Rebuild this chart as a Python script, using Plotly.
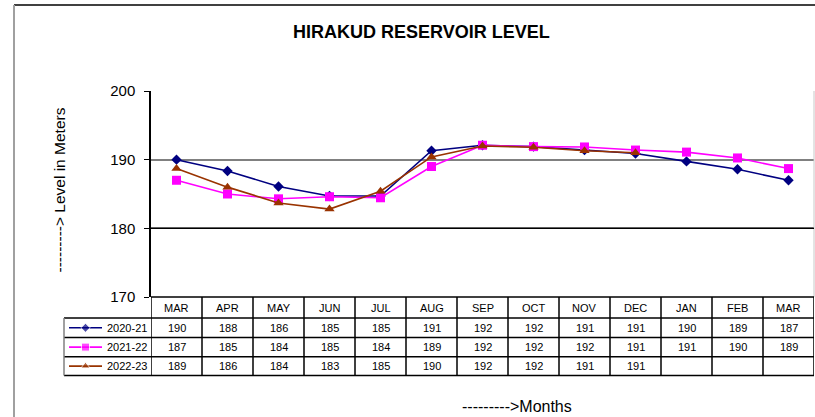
import plotly.graph_objects as go

# Data (monthly reservoir level, meters)
months = ['MAR', 'APR', 'MAY', 'JUN', 'JUL', 'AUG', 'SEP', 'OCT', 'NOV', 'DEC', 'JAN', 'FEB', 'MAR']
seasons = ['2020-21', '2021-22', '2022-23']
level_2020_21 = [190.0, 188.35, 186.1, 184.7, 184.7, 191.3, 192.1, 191.9, 191.4, 190.9, 189.75, 188.6, 187.0]
level_2021_22 = [187.0, 185.0, 184.3, 184.6, 184.45, 189.0, 192.1, 191.9, 191.85, 191.4, 191.1, 190.25, 188.7]
level_2022_23 = [188.7, 186.0, 183.7, 182.8, 185.4, 190.4, 192.0, 191.8, 191.3, 191.0, None, None, None]

series = [level_2020_21, level_2021_22, level_2022_23]
colors = ['#000080', '#FF00FF', '#993300']
symbols = ['diamond', 'square', 'triangle-up']
msizes = [8, 9, 9]

W, H = 815, 417
FONT = 'Liberation Sans, Arial, sans-serif'


def px(x):
    return x / W


def py(y):
    return 1 - y / H


x_idx = list(range(len(months)))

fig = go.Figure()
for name, vals, c, s, ms in zip(seasons, series, colors, symbols, msizes):
    fig.add_trace(go.Scatter(
        x=x_idx, y=vals, name=name, mode='lines+markers',
        line=dict(color=c, width=1.6),
        marker=dict(symbol=s, size=ms, color=c),
        showlegend=False, xaxis='x', yaxis='y',
    ))

# legend keys inside the data table (pixel-space overlay axis)
row_tops = [318, 337.5, 356.7]
row_bot = 375.5
row_mid = [(row_tops[i] + (row_tops[i + 1] if i < 2 else row_bot)) / 2 for i in range(3)]
for i, (c, s, ms) in enumerate(zip(colors, symbols, msizes)):
    fig.add_trace(go.Scatter(
        x=[69, 85.5, 102], y=[row_mid[i]] * 3, mode='lines+markers',
        line=dict(color=c, width=1.6),
        marker=dict(symbol=s, size=[0, ms - 1, 0], color=c),
        showlegend=False, xaxis='x2', yaxis='y2', hoverinfo='skip',
    ))

shapes = []
# outer chart frame
shapes.append(dict(type='line', xref='paper', yref='paper', x0=px(14), x1=px(815), y0=py(5), y1=py(5),
                   line=dict(color='black', width=1.5)))
shapes.append(dict(type='line', xref='paper', yref='paper', x0=px(14), x1=px(14), y0=py(5), y1=py(417),
                   line=dict(color='#a0a0a0', width=2)))
# plot area right border
shapes.append(dict(type='line', xref='paper', yref='paper', x0=px(814), x1=px(814), y0=py(91), y1=py(297),
                   line=dict(color='#c8c8c8', width=1)))
# the 180 gridline shows darker in the original
shapes.append(dict(type='line', xref='x', yref='y', x0=-0.5, x1=len(months) - 0.5, y0=180, y1=180,
                   layer='above', line=dict(color='black', width=1.2)))

# table lines
shapes.append(dict(type='line', xref='paper', yref='paper', x0=px(151), x1=px(814), y0=py(297), y1=py(297),
                   line=dict(color='black', width=1.5)))
for yy in row_tops + [row_bot]:
    shapes.append(dict(type='line', xref='paper', yref='paper', x0=px(64), x1=px(814), y0=py(yy), y1=py(yy),
                       line=dict(color='black', width=1.5)))
for k in range(len(months) + 1):
    shapes.append(dict(type='line', xref='x', yref='paper', x0=k - 0.5, x1=k - 0.5, y0=py(297), y1=py(row_bot),
                       line=dict(color='black', width=1.5)))
shapes.append(dict(type='line', xref='paper', yref='paper', x0=px(64), x1=px(64), y0=py(318), y1=py(row_bot),
                   line=dict(color='#808080', width=1.5)))

annotations = []
cell_font = dict(size=11, color='black', family=FONT)
for i, m in enumerate(months):
    annotations.append(dict(x=i, y=py(308), xref='x', yref='paper', text=m, showarrow=False,
                            yanchor='middle', font=cell_font))
for r, vals in enumerate(series):
    for i, v in enumerate(vals):
        if v is None:
            continue
        annotations.append(dict(x=i, y=py(row_mid[r]), xref='x', yref='paper', text=f'{v:.0f}', showarrow=False,
                                yanchor='middle', font=cell_font))
    annotations.append(dict(x=px(105), y=py(row_mid[r]), xref='paper', yref='paper', text=seasons[r],
                            xanchor='left', yanchor='middle', showarrow=False, font=cell_font))

annotations.append(dict(x=px(421), y=py(32), xref='paper', yref='paper', text='<b>HIRAKUD RESERVOIR LEVEL</b>',
                        yanchor='middle', showarrow=False, font=dict(size=18, color='black', family=FONT)))
annotations.append(dict(x=px(48), y=py(190), xref='paper', yref='paper', text='---------> Level in Meters',
                        textangle=-90, yanchor='middle', showarrow=False,
                        font=dict(size=15.5, color='black', family=FONT)))
annotations.append(dict(x=px(517), y=py(406), xref='paper', yref='paper', text='--------->Months',
                        yanchor='middle', showarrow=False, font=dict(size=16, color='black', family=FONT)))

fig.update_layout(
    width=W, height=H, autosize=False,
    margin=dict(l=0, r=0, t=0, b=0, autoexpand=False),
    paper_bgcolor='white', plot_bgcolor='rgba(0,0,0,0)',
    font=dict(family=FONT, color='black'),
    xaxis=dict(domain=[px(151), px(814)], range=[-0.5, len(months) - 0.5], showticklabels=False,
               showgrid=False, zeroline=False, showline=False, ticks='', automargin=False),
    yaxis=dict(domain=[py(297), py(91)], range=[170, 200], dtick=10, showgrid=True, gridcolor='#808080',
               gridwidth=1.5, zeroline=False, showline=True, linecolor='black', linewidth=1.5,
               ticks='outside', ticklen=5, tickcolor='black', ticklabelstandoff=6,
               tickfont=dict(size=15, family=FONT), automargin=False),
    xaxis2=dict(domain=[0, 1], range=[0, W], visible=False, anchor='y2', automargin=False),
    yaxis2=dict(domain=[0, 1], range=[H, 0], visible=False, anchor='x2', automargin=False),
    shapes=shapes,
    annotations=annotations,
    showlegend=False,
)

fig.write_html('out.html', config={'displayModeBar': False},
               post_script="document.body.style.margin='0';document.body.style.overflow='hidden';")
